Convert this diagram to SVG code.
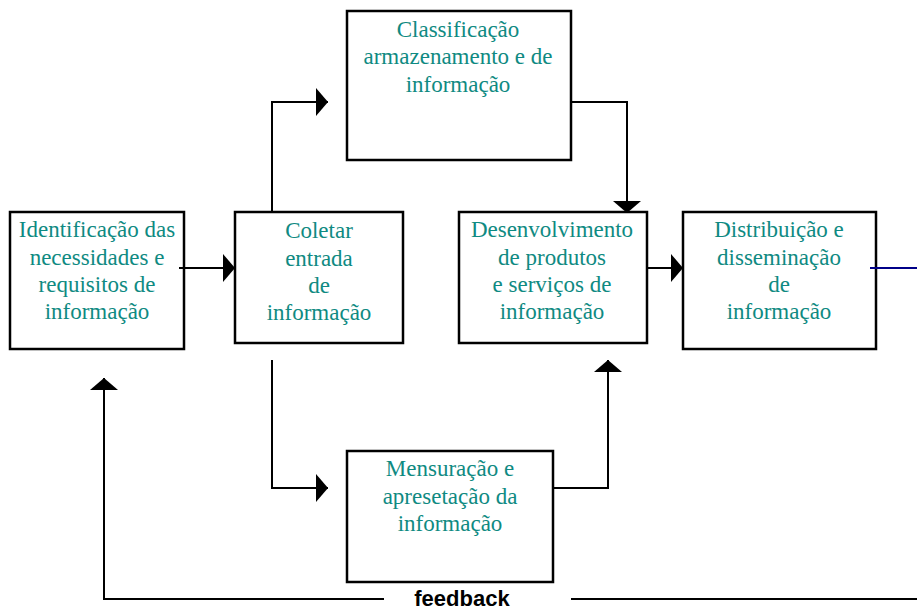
<svg xmlns="http://www.w3.org/2000/svg" width="917" height="611" viewBox="0 0 917 611">
<style>
.box{fill:#fff;stroke:#000;stroke-width:2.5}
.lbl{font-family:"Liberation Serif","Times New Roman",serif;font-size:23px;fill:#0f8a82;text-anchor:middle}
.con{fill:none;stroke:#000;stroke-width:2}
.fb{font-family:"Liberation Sans",Arial,sans-serif;font-size:22px;font-weight:bold;fill:#000;text-anchor:middle}
</style>
<defs>
<marker id="ah" markerUnits="userSpaceOnUse" markerWidth="12" markerHeight="28" refX="12" refY="14" orient="auto" viewBox="0 0 12 28">
<path d="M0,0 L12,14 L0,28 z" fill="#000"/>
</marker>
</defs>
<rect width="917" height="611" fill="#fff"/>
<g id="n-identificacao">
<rect class="box" x="10" y="212" width="174" height="137"/>
<text class="lbl"><tspan x="97" y="237">Identificação das</tspan><tspan x="97" y="265">necessidades e</tspan><tspan x="97" y="292">requisitos de</tspan><tspan x="97" y="319">informação</tspan></text>
</g>
<g id="n-coletar">
<rect class="box" x="235" y="212" width="168" height="131"/>
<text class="lbl"><tspan x="319" y="238">Coletar</tspan><tspan x="319" y="266">entrada</tspan><tspan x="319" y="293">de</tspan><tspan x="319" y="320">informação</tspan></text>
</g>
<g id="n-classificacao">
<rect class="box" x="347" y="11" width="224" height="149"/>
<text class="lbl"><tspan x="458" y="37">Classificação</tspan><tspan x="458" y="64">armazenamento e de</tspan><tspan x="458" y="92">informação</tspan></text>
</g>
<g id="n-desenvolvimento">
<rect class="box" x="459" y="212" width="188" height="131"/>
<text class="lbl"><tspan x="552" y="237">Desenvolvimento</tspan><tspan x="552" y="265">de produtos</tspan><tspan x="552" y="292">e serviços de</tspan><tspan x="552" y="319">informação</tspan></text>
</g>
<g id="n-distribuicao">
<rect class="box" x="683" y="212" width="193" height="137"/>
<text class="lbl"><tspan x="779" y="237">Distribuição e</tspan><tspan x="779" y="265">disseminação</tspan><tspan x="779" y="292">de</tspan><tspan x="779" y="319">informação</tspan></text>
</g>
<g id="n-mensuracao">
<rect class="box" x="347" y="451" width="206" height="131"/>
<text class="lbl"><tspan x="450" y="476">Mensuração e</tspan><tspan x="450" y="504">apresetação da</tspan><tspan x="450" y="531">informação</tspan></text>
</g>
<g id="connectors">
<path class="con" d="M179,268 H235" marker-end="url(#ah)"/>
<path class="con" d="M272,213 V102 H328" marker-end="url(#ah)"/>
<path class="con" d="M571,102 H627 V213" marker-end="url(#ah)"/>
<path class="con" d="M646,268 H683" marker-end="url(#ah)"/>
<path class="con" d="M272,360 V488 H328" marker-end="url(#ah)"/>
<path class="con" d="M553,488 H608 V360" marker-end="url(#ah)"/>
<path class="con" d="M384,599 H104 V378" marker-end="url(#ah)"/>
<path class="con" d="M571,599 H917"/>
<path class="con" d="M870,268 H917" style="stroke:#000088"/>
<text class="fb" x="462" y="606">feedback</text>
</g>
</svg>
